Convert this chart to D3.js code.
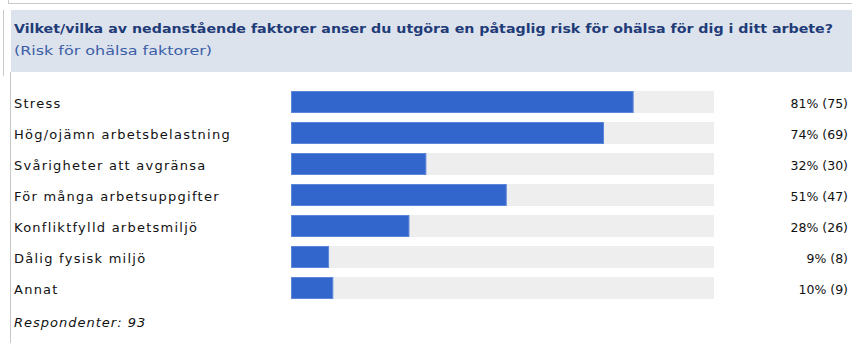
<!DOCTYPE html>
<html>
<head>
<meta charset="utf-8">
<script src="https://cdn.jsdelivr.net/npm/d3@7/dist/d3.min.js"></script>
<style>
  html, body { margin: 0; padding: 0; background: #ffffff; }
  svg { display: block; }
</style>
</head>
<body>
<div id="chart"></div>
<script>
// Survey question and answer options
const question = "Vilket/vilka av nedanstående faktorer anser du utgöra en påtaglig risk för ohälsa för dig i ditt arbete?";
const subtitle = "(Risk för ohälsa faktorer)";
const categories = [
  "Stress",
  "Hög/ojämn arbetsbelastning",
  "Svårigheter att avgränsa",
  "För många arbetsuppgifter",
  "Konfliktfylld arbetsmiljö",
  "Dålig fysisk miljö",
  "Annat"
];
const percents = [81, 74, 32, 51, 28, 9, 10];
const counts = [75, 69, 30, 47, 26, 8, 9];
const respondents = 93;

const W = 852, H = 343;
const svg = d3.select("#chart").append("svg")
  .attr("width", W).attr("height", H);

// Frame lines around the panel
svg.append("line").attr("x1", 8).attr("x2", W).attr("y1", 3.5).attr("y2", 3.5)
  .attr("stroke", "#c8c8c8").attr("stroke-width", 1);
svg.append("line").attr("x1", 8.5).attr("x2", 8.5).attr("y1", 0).attr("y2", 3.5)
  .attr("stroke", "#c8c8c8").attr("stroke-width", 1);
svg.append("line").attr("x1", 3.5).attr("x2", 3.5).attr("y1", 10).attr("y2", 76)
  .attr("stroke", "#c8c8c8").attr("stroke-width", 1);
svg.append("line").attr("x1", 10.5).attr("x2", 10.5).attr("y1", 72).attr("y2", H)
  .attr("stroke", "#c8c8c8").attr("stroke-width", 1);

// Header block
svg.append("rect").attr("x", 11).attr("y", 10).attr("width", W - 11).attr("height", 62)
  .attr("fill", "#dde3ed");

svg.append("text")
  .attr("x", 14).attr("y", 33)
  .attr("font-family", "'DejaVu Sans', Verdana, sans-serif")
  .attr("font-size", 13).attr("font-weight", "bold")
  .attr("fill", "#1f3c78")
  .attr("textLength", 819).attr("lengthAdjust", "spacingAndGlyphs")
  .text(question);

svg.append("text")
  .attr("x", 14).attr("y", 55)
  .attr("font-family", "'DejaVu Sans', Verdana, sans-serif")
  .attr("font-size", 13)
  .attr("fill", "#3b5ea6")
  .attr("textLength", 198).attr("lengthAdjust", "spacingAndGlyphs")
  .text(subtitle);

// Bars: 31px row pitch, 22px bar height
const x = d3.scaleLinear().domain([0, 100]).range([291, 714]);
const y = d3.scaleBand().domain(categories)
  .range([91, 91 + 31 * categories.length - 9])
  .paddingInner(9 / 31).paddingOuter(0);

const rows = svg.append("g").selectAll("g").data(categories).join("g");

rows.append("rect")
  .attr("x", x(0)).attr("y", d => y(d))
  .attr("width", x(100) - x(0)).attr("height", y.bandwidth())
  .attr("fill", "#eeeeee");

rows.append("rect")
  .attr("x", x(0) + 0.5).attr("y", d => y(d) + 0.5)
  .attr("width", (d, i) => x(percents[i]) - x(0) - 1)
  .attr("height", y.bandwidth() - 1)
  .attr("fill", "#3366cc")
  .attr("stroke", "#5b86d9").attr("stroke-width", 1);

rows.append("text")
  .attr("x", 14).attr("y", d => y(d) + y.bandwidth() / 2 + 5.5)
  .attr("font-family", "'DejaVu Sans', Verdana, sans-serif")
  .attr("font-size", 13).attr("letter-spacing", 1.25).attr("fill", "#111111")
  .text(d => d);

rows.append("text")
  .attr("x", 848).attr("y", d => y(d) + y.bandwidth() / 2 + 5.5)
  .attr("text-anchor", "end")
  .attr("font-family", "'DejaVu Sans', Verdana, sans-serif")
  .attr("font-size", 12.5).attr("fill", "#111111")
  .text((d, i) => `${percents[i]}% (${counts[i]})`);

svg.append("text")
  .attr("x", 14).attr("y", 327)
  .attr("font-family", "'DejaVu Sans', Verdana, sans-serif")
  .attr("font-size", 13).attr("font-style", "italic").attr("letter-spacing", 1)
  .attr("fill", "#111111")
  .text(`Respondenter: ${respondents}`);
</script>
</body>
</html>
